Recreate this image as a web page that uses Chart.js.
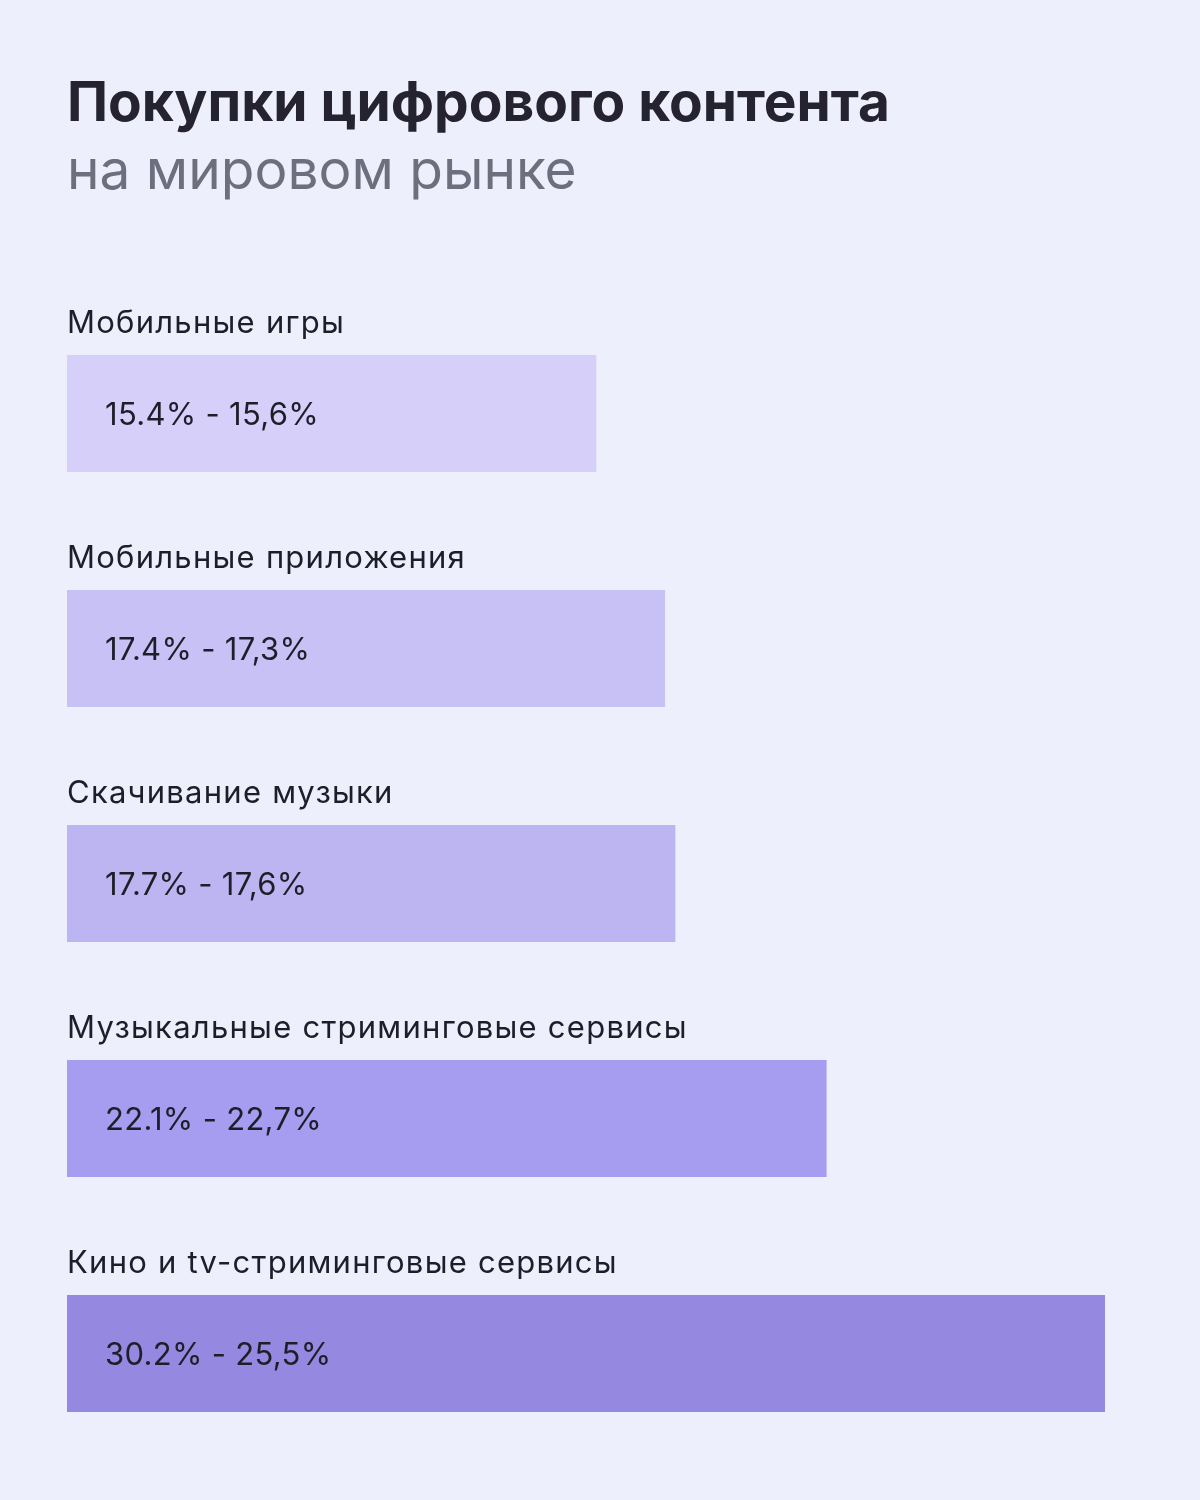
<!DOCTYPE html>
<html lang="ru">
<head>
<meta charset="utf-8">
<title>Покупки цифрового контента</title>
<script src="https://cdn.jsdelivr.net/npm/chart.js@4/dist/chart.umd.min.js"></script>
<style>
  html, body { margin: 0; padding: 0; background: #eeeffd; }
  #chart { display: block; }
</style>
</head>
<body>
<canvas id="chart" width="1200" height="1500"></canvas>
<script>
// data
const categories = [
    "Мобильные игры",
    "Мобильные приложения",
    "Скачивание музыки",
    "Музыкальные стриминговые сервисы",
    "Кино и tv-стриминговые сервисы",
];
const shareFrom = [15.4, 17.4, 17.7, 22.1, 30.2];
const shareTo = ["15,6", "17,3", "17,6", "22,7", "25,5"];
const barColors = ["#d5cffa", "#c8c1f6", "#bdb5f2", "#a69cf0", "#9588e1"];

// labels above each bar and the range text inside it
const barLabels = {
    id: "barLabels",
    afterDatasetsDraw(chart) {
        const ctx = chart.ctx;
        const meta = chart.getDatasetMeta(0);
        ctx.save();
        ctx.textAlign = "left";
        ctx.textBaseline = "middle";
        meta.data.forEach((bar, i) => {
            const top = bar.y - bar.height / 2;
            ctx.fillStyle = "#1e1e28";
            ctx.font = "400 31px Inter";
            ctx.letterSpacing = "1.25px";
            ctx.fillText(categories[i], chart.chartArea.left, top - 31);
            ctx.font = "400 31px Inter";
            ctx.letterSpacing = "0.3px";
            ctx.fillText(shareFrom[i].toFixed(1) + "% - " + shareTo[i] + "%", chart.chartArea.left + 38, bar.y + 2);
        });
        ctx.restore();
    },
};

new Chart(document.getElementById("chart"), {
    type: "bar",
    data: {
        labels: categories,
        datasets: [
            {
                data: shareFrom,
                backgroundColor: barColors,
                borderWidth: 0,
                categoryPercentage: 1,
                barPercentage: 0.498,
            },
        ],
    },
    options: {
        indexAxis: "y",
        responsive: false,
        animation: false,
        devicePixelRatio: 1,
        layout: {
            padding: { top: 0, left: 67, right: 95, bottom: 29 },
        },
        scales: {
            x: { display: false, min: 0, max: 30.2 },
            y: { display: false },
        },
        plugins: {
            legend: { display: false },
            tooltip: { enabled: false },
            title: {
                display: true,
                align: "start",
                text: "Покупки цифрового контента",
                color: "#25232f",
                font: { family: "Inter", size: 55, weight: "700" },
                padding: { top: 71, bottom: 0 },
            },
            subtitle: {
                display: true,
                align: "start",
                text: "на мировом рынке",
                color: "#6e6e7e",
                font: { family: "Inter", size: 55, weight: "400" },
                padding: { top: 2, bottom: 91 },
            },
        },
    },
    plugins: [barLabels],
});
</script>
</body>
</html>
